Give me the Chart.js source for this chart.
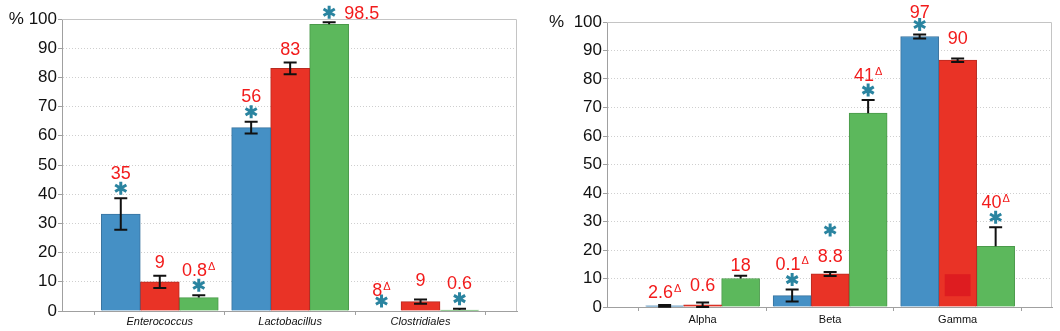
<!DOCTYPE html>
<html>
<head>
<meta charset="utf-8">
<script src="https://cdn.jsdelivr.net/npm/chart.js@4"></script>
<style>
  body { margin: 0; background: #fff; }
  .wrap { display: flex; width: 1060px; height: 331px; }
  .box { position: relative; width: 530px; height: 331px; }
</style>
</head>
<body>
<div class="wrap">
  <div class="box"><canvas id="genusChart"></canvas></div>
  <div class="box"><canvas id="proteoChart"></canvas></div>
</div>
<script>
// left panel
const genusLabels = ['Enterococcus', 'Lactobacillus', 'Clostridiales'];
const genusBlue = [33.2, 62.8, 0];
const genusRed = [10.0, 83.1, 3.2];
const genusGreen = [4.6, 98.2, 0.3];
const genusBlueErr = [5.4, 2.0, 0];
const genusRedErr = [2.1, 2.0, 0.7];
const genusGreenErr = [0.8, 0.7, 0.5];
const genusBlueNotes = ['35', '56', '8Δ'];
const genusRedNotes = ['9', '83', '9'];
const genusGreenNotes = ['0.8Δ', '98.5', '0.6'];
const genusBlueStars = [true, true, true];
const genusRedStars = [false, false, false];
const genusGreenStars = [true, true, true];

// right panel
const proteoLabels = ['Alpha', 'Beta', 'Gamma'];
const proteoBlue = [0.4, 4.0, 94.9];
const proteoRed = [0.8, 11.6, 86.6];
const proteoGreen = [10.0, 68.0, 21.3];
const proteoBlueErr = [0.3, 2.1, 0.7];
const proteoRedErr = [0.8, 0.7, 0.6];
const proteoGreenErr = [1.0, 4.6, 6.7];
const proteoBlueNotes = ['2.6Δ', '0.1Δ', '97'];
const proteoRedNotes = ['0.6', '8.8', '90'];
const proteoGreenNotes = ['18', '41Δ', '40Δ'];
const proteoBlueStars = [false, true, true];
const proteoRedStars = [false, true, false];
const proteoGreenStars = [false, true, true];

const BLUE = '#4590c5', RED = '#e93326', GREEN = '#5cb85c';
const TEAL = '#2a84a0', NOTE_RED = '#f21b1b';
const FONT = '"Liberation Sans", Arial, sans-serif';

function drawStar(ctx, x, y) {
  const r = 6.5;
  ctx.save();
  ctx.strokeStyle = TEAL;
  ctx.lineWidth = 3;
  ctx.beginPath();
  for (let k = 0; k < 3; k++) {
    const a = Math.PI / 2 + k * Math.PI / 3;
    ctx.moveTo(x + r * Math.cos(a), y - r * Math.sin(a));
    ctx.lineTo(x - r * Math.cos(a), y + r * Math.sin(a));
  }
  ctx.stroke();
  ctx.restore();
}

function drawNote(ctx, text, x, y, align) {
  const main = text.replace('Δ', '');
  const hasDelta = text.indexOf('Δ') >= 0;
  ctx.save();
  ctx.fillStyle = NOTE_RED;
  ctx.textAlign = 'left';
  ctx.textBaseline = 'alphabetic';
  ctx.font = '18px ' + FONT;
  const w1 = ctx.measureText(main).width;
  ctx.font = '11px ' + FONT;
  const w2 = hasDelta ? ctx.measureText('Δ').width + 1 : 0;
  const left = align === 'left' ? x : x - (w1 + w2) / 2;
  ctx.font = '18px ' + FONT;
  ctx.fillText(main, left, y + 6.5);
  if (hasDelta) {
    ctx.font = '11px ' + FONT;
    ctx.fillText('Δ', left + w1 + 1, y + 0.5);
  }
  ctx.restore();
}

// error bars, stars and value notes on top of the bars
function marksPlugin(spec) {
  return {
    id: 'marks',
    beforeDatasetsDraw(chart) {
      const {ctx, chartArea: a} = chart;
      ctx.save();
      ctx.strokeStyle = '#c4c4c4';
      ctx.lineWidth = 1;
      ctx.beginPath();
      ctx.moveTo(a.left, a.top + 0.5);
      ctx.lineTo(a.right - 0.5, a.top + 0.5);
      ctx.lineTo(a.right - 0.5, a.bottom);
      ctx.stroke();
      ctx.restore();
    },
    afterDatasetsDraw(chart) {
      const ctx = chart.ctx, ys = chart.scales.y;
      chart.data.datasets.forEach((ds, i) => {
        const meta = chart.getDatasetMeta(i);
        meta.data.forEach((bar, j) => {
          const key = i + ':' + j;
          const v = ds.data[j].y;
          const e = spec.errors[i][j];
          const top = ys.getPixelForValue(v + e);
          if (spec.patch && spec.patch.key === key) {
            const p = spec.patch;
            ctx.save();
            ctx.fillStyle = p.color;
            const y1 = ys.getPixelForValue(p.to), y2 = ys.getPixelForValue(p.from);
            ctx.fillRect(bar.x - bar.width * 0.34, y1, bar.width * 0.68, y2 - y1);
            ctx.restore();
          }
          if (e > 0) {
            const upOnly = i === 2;
            const bot = ys.getPixelForValue(Math.max(v - e, 0));
            ctx.save();
            ctx.strokeStyle = '#111';
            ctx.lineWidth = 2;
            ctx.beginPath();
            ctx.moveTo(bar.x, top);
            ctx.lineTo(bar.x, upOnly ? bar.y : bot);
            ctx.moveTo(bar.x - 6.5, top);
            ctx.lineTo(bar.x + 6.5, top);
            if (!upOnly) {
              ctx.moveTo(bar.x - 6.5, bot);
              ctx.lineTo(bar.x + 6.5, bot);
            }
            ctx.stroke();
            ctx.restore();
          }
          const mode = spec.layout[key];
          const lift = spec.lift[key] || 0;
          const star = spec.stars[i][j];
          const note = spec.notes[i][j];
          if (mode === 'side') {
            drawStar(ctx, bar.x, top - 10);
            drawNote(ctx, note, bar.x + 15, top - 10, 'left');
          } else if (mode === 'starAbove') {
            const ny = top - 16 - lift;
            drawNote(ctx, note, bar.x, ny);
            drawStar(ctx, bar.x, ny - 26);
          } else if (star) {
            drawStar(ctx, bar.x, top - 10);
            drawNote(ctx, note, bar.x, top - 26 - lift);
          } else {
            drawNote(ctx, note, bar.x, top - 14 - lift);
          }
        });
      });
    }
  };
}

function makeChart(el, o) {
  const series = [o.blue, o.red, o.green];
  const colors = [BLUE, RED, GREEN];
  const borders = ['#3a74a0', '#b92a20', '#4a9a4a'];
  return new Chart(el, {
    type: 'bar',
    data: {
      datasets: series.map((s, i) => ({
        data: s.map((v, j) => ({x: j + 0.5, y: v})),
        backgroundColor: colors[i],
        borderColor: borders[i],
        borderWidth: 1,
        barThickness: o.barWidth
      }))
    },
    options: {
      responsive: true,
      maintainAspectRatio: false,
      animation: false,
      layout: {padding: {left: 0, right: o.padRight, top: o.padTop, bottom: 0}},
      plugins: {legend: {display: false}, tooltip: {enabled: false}},
      scales: {
        x: {
          type: 'linear',
          offset: false,
          min: -0.25,
          max: 3.24,
          afterBuildTicks: (scale) => {
            scale.ticks = [0, 0.5, 1, 1.5, 2, 2.5, 3].map(v => ({value: v}));
          },
          afterFit: (scale) => { scale.height = o.xHeight; },
          grid: {
            offset: false,
            drawOnChartArea: false,
            tickLength: 4,
            tickColor: (c) => (c.tick && c.tick.value % 1 === 0) ? '#a0a0a0' : 'transparent'
          },
          border: {color: '#a0a0a0'},
          ticks: {
            autoSkip: false,
            maxRotation: 0,
            padding: o.xPad,
            color: '#111',
            font: {family: FONT, size: 11, style: o.italic ? 'italic' : 'normal'},
            callback: (v) => (v % 1 === 0.5) ? o.labels[Math.floor(v)] : ''
          }
        },
        y: {
          min: 0,
          max: 100,
          afterFit: (scale) => { scale.width = o.yWidth; },
          grid: {
            tickLength: 4,
            tickColor: '#a0a0a0',
            color: (c) => (c.tick && c.tick.value % 10 === 0 && c.tick.value > 0 && c.tick.value < 100) ? '#cfcfcf' : 'transparent'
          },
          border: {color: '#a0a0a0', dash: [1, 2]},
          ticks: {
            stepSize: 5,
            padding: 1,
            color: '#111',
            font: {family: FONT, size: 17},
            callback: (v) => v === 100 ? o.pct : (v % 10 === 0 ? v : '')
          }
        }
      }
    },
    plugins: [marksPlugin(o.spec)]
  });
}

makeChart(document.getElementById('genusChart'), {
  labels: genusLabels,
  blue: genusBlue, red: genusRed, green: genusGreen,
  barWidth: 39, padRight: 13, padTop: 19, xHeight: 20, yWidth: 62, xPad: 0,
  italic: true, pct: '% 100',
  spec: {
    errors: [genusBlueErr, genusRedErr, genusGreenErr],
    notes: [genusBlueNotes, genusRedNotes, genusGreenNotes],
    stars: [genusBlueStars, genusRedStars, genusGreenStars],
    layout: {'2:1': 'side'},
    lift: {'1:2': 6, '0:2': -4}
  }
});

makeChart(document.getElementById('proteoChart'), {
  labels: proteoLabels,
  blue: proteoBlue, red: proteoRed, green: proteoGreen,
  barWidth: 38, padRight: 8, padTop: 22, xHeight: 24, yWidth: 77, xPad: 2,
  italic: false, pct: '%  100',
  spec: {
    errors: [proteoBlueErr, proteoRedErr, proteoGreenErr],
    notes: [proteoBlueNotes, proteoRedNotes, proteoGreenNotes],
    stars: [proteoBlueStars, proteoRedStars, proteoGreenStars],
    layout: {'1:1': 'starAbove'},
    lift: {'1:0': 4, '1:2': 7, '0:2': -3, '2:0': -3},
    patch: {key: '1:2', from: 3.8, to: 11.5, color: '#de1c20'}
  }
});
</script>
</body>
</html>
